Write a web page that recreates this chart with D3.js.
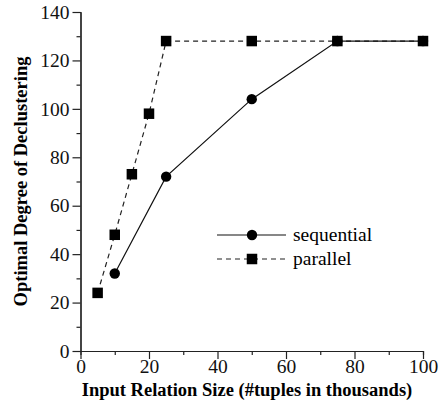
<!DOCTYPE html>
<html>
<head>
<meta charset="utf-8">
<script src="https://cdn.jsdelivr.net/npm/d3@7"></script>
<style>
  body { margin: 0; background: #fff; }
  svg { font-family: "Liberation Serif", "Times New Roman", serif; }
</style>
</head>
<body>
<script>
// data
const seqX = [10, 25, 50, 75, 100];
const seqY = [32, 72, 104, 128, 128];
const parX = [5, 10, 15, 20, 25, 50, 75, 100];
const parY = [24, 48, 73, 98, 128, 128, 128, 128];
const xTicks = [0, 20, 40, 60, 80, 100];
const yTicks = [0, 20, 40, 60, 80, 100, 120, 140];

const width = 441, height = 409;
const margin = { left: 80.5, right: 18, top: 12, bottom: 58 };

const svg = d3.select("body").append("svg")
  .attr("width", width)
  .attr("height", height);

const x = d3.scaleLinear().domain([0, 100]).range([margin.left, width - margin.right]);
const y = d3.scaleLinear().domain([0, 140]).range([height - margin.bottom, margin.top]);

// minor ticks first (short), then major axes on top
svg.append("g")
  .attr("transform", "translate(0," + y(0) + ")")
  .call(d3.axisBottom(x).tickValues(d3.range(10, 100, 20)).tickSize(4).tickFormat(""));
svg.append("g")
  .attr("transform", "translate(" + x(0) + ",0)")
  .call(d3.axisLeft(y).tickValues(d3.range(10, 140, 20)).tickSize(4).tickFormat(""));

svg.append("g")
  .attr("transform", "translate(0," + y(0) + ")")
  .call(d3.axisBottom(x).tickValues(xTicks).tickSize(8).tickSizeOuter(0).tickPadding(0));
svg.append("g")
  .attr("transform", "translate(" + x(0) + ",0)")
  .call(d3.axisLeft(y).tickValues(yTicks).tickSize(8).tickSizeOuter(0).tickPadding(3));

svg.selectAll(".domain, .tick line").attr("stroke", "#222").attr("stroke-width", 1.2);
svg.selectAll(".tick text")
  .attr("font-family", "Liberation Serif")
  .attr("font-size", 19.5)
  .attr("fill", "#111");

// axis titles
svg.append("text")
  .attr("x", 247)
  .attr("y", 396)
  .attr("text-anchor", "middle")
  .attr("font-weight", "bold")
  .attr("font-size", 18.5)
  .text("Input Relation Size (#tuples in thousands)");

svg.append("text")
  .attr("transform", "translate(27," + y(70) + ") rotate(-90)")
  .attr("text-anchor", "middle")
  .attr("font-weight", "bold")
  .attr("font-size", 18.5)
  .text("Optimal Degree of Declustering");

const line = d3.line().x(d => x(d[0])).y(d => y(d[1]));
const seq = d3.zip(seqX, seqY);
const par = d3.zip(parX, parY);

svg.append("path")
  .datum(par)
  .attr("d", line)
  .attr("fill", "none")
  .attr("stroke", "#222")
  .attr("stroke-width", 1.2)
  .attr("stroke-dasharray", "5,4");

svg.append("path")
  .datum(seq)
  .attr("d", line)
  .attr("fill", "none")
  .attr("stroke", "#111")
  .attr("stroke-width", 1.2);

const sq = 10.5;
svg.selectAll("rect.par")
  .data(par)
  .enter().append("rect")
  .attr("x", d => x(d[0]) - sq / 2)
  .attr("y", d => y(d[1]) - sq / 2)
  .attr("width", sq)
  .attr("height", sq)
  .attr("fill", "#000");

svg.selectAll("circle.seq")
  .data(seq)
  .enter().append("circle")
  .attr("cx", d => x(d[0]))
  .attr("cy", d => y(d[1]))
  .attr("r", 5.2)
  .attr("fill", "#000");

// legend
const legend = svg.append("g").attr("transform", "translate(217,235)");
legend.append("line")
  .attr("x1", 0).attr("x2", 69).attr("y1", 0).attr("y2", 0)
  .attr("stroke", "#111").attr("stroke-width", 1.2);
legend.append("circle").attr("cx", 35).attr("cy", 0).attr("r", 5.2).attr("fill", "#000");
legend.append("text").attr("x", 76).attr("y", 6).attr("font-size", 19.5).text("sequential");

legend.append("line")
  .attr("x1", 0).attr("x2", 69).attr("y1", 24).attr("y2", 24)
  .attr("stroke", "#222").attr("stroke-width", 1.2).attr("stroke-dasharray", "5,4");
legend.append("rect").attr("x", 35 - sq / 2).attr("y", 24 - sq / 2)
  .attr("width", sq).attr("height", sq).attr("fill", "#000");
legend.append("text").attr("x", 76).attr("y", 30).attr("font-size", 19.5).text("parallel");
</script>
</body>
</html>
